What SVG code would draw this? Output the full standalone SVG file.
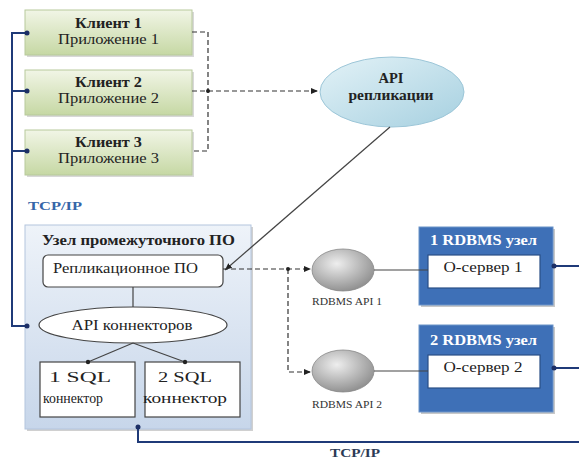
<svg xmlns="http://www.w3.org/2000/svg" width="579" height="461" viewBox="0 0 579 461" font-family="'Liberation Serif', 'DejaVu Serif', serif">
<defs>
<linearGradient id="gGreen" x1="0" y1="0" x2="0" y2="1"><stop offset="0" stop-color="#f1f5e6"/><stop offset="1" stop-color="#c6d8a4"/></linearGradient>
<linearGradient id="gBlue" x1="0" y1="0" x2="1" y2="1"><stop offset="0" stop-color="#e3f2f7"/><stop offset="1" stop-color="#a6d0e0"/></linearGradient>
<linearGradient id="gMid" x1="0" y1="0" x2="0" y2="1"><stop offset="0" stop-color="#eef3f9"/><stop offset="1" stop-color="#c7d6ea"/></linearGradient>
<radialGradient id="gGray" cx="0.4" cy="0.35" r="0.7"><stop offset="0" stop-color="#eeeeee"/><stop offset="1" stop-color="#8c8c8c"/></radialGradient>
<marker id="arr" markerWidth="8" markerHeight="8" refX="7" refY="4" orient="auto" markerUnits="userSpaceOnUse"><path d="M0,1 L7,4 L0,7 z" fill="#222"/></marker>
</defs>
<style>
text{font-family:'Liberation Serif','DejaVu Serif',serif;}
.b{font-weight:bold;}
.t{font-size:14px;fill:#222;}
.client rect.box{fill:url(#gGreen);stroke:#b7c99c;stroke-width:1;}
.shadow{fill:#d8d8d8;stroke:none;}
.bus{fill:none;stroke:#1f3a78;stroke-width:2;}
.dash{fill:none;stroke:#333;stroke-width:1.2;stroke-dasharray:5,3;}
.solid{fill:none;stroke:#444;stroke-width:1.2;}
.wbox{fill:#fff;stroke:#444;stroke-width:1.2;}
.rdb{fill:#3e70b7;stroke:#6b93c8;stroke-width:1;}
.jdot{fill:#1c2f66;}
.wt{fill:#fff;}
</style>

<g id="client1" class="client">
  <rect x="27" y="12" width="167" height="45" class="shadow"/>
  <rect x="25" y="10" width="167" height="45" class="box"/>
  <text class="b t" x="108.5" y="28" text-anchor="middle" textLength="67" lengthAdjust="spacingAndGlyphs">Клиент 1</text>
  <text class="t" x="108.5" y="44" text-anchor="middle" textLength="101" lengthAdjust="spacingAndGlyphs">Приложение 1</text>
</g>
<g id="client2" class="client">
  <rect x="27" y="72" width="167" height="45" class="shadow"/>
  <rect x="25" y="70" width="167" height="45" class="box"/>
  <text class="b t" x="108.5" y="87" text-anchor="middle" textLength="67" lengthAdjust="spacingAndGlyphs">Клиент 2</text>
  <text class="t" x="108.5" y="103" text-anchor="middle" textLength="101" lengthAdjust="spacingAndGlyphs">Приложение 2</text>
</g>
<g id="client3" class="client">
  <rect x="27" y="132" width="167" height="45" class="shadow"/>
  <rect x="25" y="130" width="167" height="45" class="box"/>
  <text class="b t" x="108.5" y="147" text-anchor="middle" textLength="67" lengthAdjust="spacingAndGlyphs">Клиент 3</text>
  <text class="t" x="108.5" y="163" text-anchor="middle" textLength="101" lengthAdjust="spacingAndGlyphs">Приложение 3</text>
</g>

<g id="api-replication">
  <ellipse cx="392" cy="92" rx="72" ry="35" fill="url(#gBlue)" stroke="#9cc6d8" stroke-width="1"/>
  <text class="b t" x="391" y="83" text-anchor="middle" textLength="25" lengthAdjust="spacingAndGlyphs">API</text>
  <text class="b t" x="391" y="100" text-anchor="middle" textLength="85" lengthAdjust="spacingAndGlyphs">репликации</text>
</g>

<text class="b" x="28" y="210" font-size="12" fill="#3565a8" textLength="54" lengthAdjust="spacingAndGlyphs">TCP/IP</text>

<g id="middleware">
  <rect x="27" y="227" width="226" height="204" fill="#d0d0d0"/>
  <rect x="25" y="225" width="226" height="204" fill="url(#gMid)" stroke="#b3c5de" stroke-width="1"/>
  <text class="b t" x="42" y="245" textLength="193" lengthAdjust="spacingAndGlyphs">Узел промежуточного ПО</text>
</g>
<g id="replication-sw">
  <rect x="43" y="255" width="180" height="32" rx="5" class="wbox"/>
  <text class="t" x="53" y="273" textLength="145" lengthAdjust="spacingAndGlyphs">Репликационное ПО</text>
</g>
<g id="api-connectors">
  <ellipse cx="133" cy="325" rx="94" ry="18" fill="#fff" stroke="#444" stroke-width="1.2"/>
  <text class="t" x="132" y="330" text-anchor="middle" textLength="121" lengthAdjust="spacingAndGlyphs">API коннекторов</text>
</g>
<g id="sql1">
  <rect x="40" y="362" width="95" height="55" class="wbox"/>
  <text class="t" x="80" y="382" text-anchor="middle" textLength="62" lengthAdjust="spacingAndGlyphs">1 SQL</text>
  <text class="t" x="73" y="403" text-anchor="middle" textLength="60" lengthAdjust="spacingAndGlyphs">коннектор</text>
</g>
<g id="sql2">
  <rect x="145" y="362" width="95" height="55" class="wbox"/>
  <text class="t" x="185" y="382" text-anchor="middle" textLength="54" lengthAdjust="spacingAndGlyphs">2 SQL</text>
  <text class="t" x="185" y="403" text-anchor="middle" textLength="84" lengthAdjust="spacingAndGlyphs">коннектор</text>
</g>

<g id="rdbms-api1">
  <ellipse cx="343" cy="270" rx="31" ry="21" fill="url(#gGray)" stroke="#888" stroke-width="0.8"/>
  <text x="347" y="305" text-anchor="middle" font-size="10" fill="#333" textLength="70" lengthAdjust="spacingAndGlyphs">RDBMS API 1</text>
</g>
<g id="rdbms-api2">
  <ellipse cx="343" cy="371" rx="31" ry="21" fill="url(#gGray)" stroke="#888" stroke-width="0.8"/>
  <text x="347" y="408" text-anchor="middle" font-size="10" fill="#333" textLength="70" lengthAdjust="spacingAndGlyphs">RDBMS API 2</text>
</g>

<g id="rdbms1">
  <rect x="421" y="229" width="134" height="78" fill="#c8c8c8"/>
  <rect x="419" y="227" width="134" height="78" class="rdb"/>
  <text class="b t wt" x="430" y="245" style="fill:#fff" textLength="107" lengthAdjust="spacingAndGlyphs">1 RDBMS узел</text>
  <rect x="428" y="255" width="112" height="33" class="wbox" style="stroke:#2a4f86"/>
  <text class="t" x="483" y="272" text-anchor="middle" textLength="79" lengthAdjust="spacingAndGlyphs">О-сервер 1</text>
</g>
<g id="rdbms2">
  <rect x="421" y="327" width="134" height="87" fill="#c8c8c8"/>
  <rect x="419" y="325" width="134" height="87" class="rdb"/>
  <text class="b t wt" x="430" y="345" style="fill:#fff" textLength="107" lengthAdjust="spacingAndGlyphs">2 RDBMS узел</text>
  <rect x="428" y="355" width="112" height="33" class="wbox" style="stroke:#2a4f86"/>
  <text class="t" x="483" y="372" text-anchor="middle" textLength="79" lengthAdjust="spacingAndGlyphs">О-сервер 2</text>
</g>

<text class="b" x="330" y="457" font-size="12" fill="#2b3a55" textLength="50" lengthAdjust="spacingAndGlyphs">TCP/IP</text>

<g id="connectors">
  <path class="bus" d="M27,33 H12 V326 H27"/>
  <path class="bus" d="M12,91 H27"/>
  <path class="bus" d="M12,151 H27"/>
  <circle class="jdot" cx="27" cy="33" r="2.5"/>
  <circle class="jdot" cx="27" cy="91" r="2.5"/>
  <circle class="jdot" cx="27" cy="151" r="2.5"/>
  <circle class="jdot" cx="27" cy="326" r="2.5"/>
  <path class="bus" d="M138,427 V442 H579"/>
  <circle class="jdot" cx="138" cy="427" r="2.5"/>
  <path class="bus" d="M554,266 H579"/>
  <path class="bus" d="M554,368 H579"/>
  <circle class="jdot" cx="554" cy="266" r="2.5"/>
  <circle class="jdot" cx="554" cy="368" r="2.5"/>
  <path class="dash" d="M192,32 H208 V151 H192"/>
  <path class="dash" d="M192,91 H318" marker-end="url(#arr)"/>
  <circle cx="208" cy="91" r="2" fill="#222"/>
  <path class="solid" d="M390,127 L225,270" marker-end="url(#arr)"/>
  <path class="dash" d="M223,269 H311" marker-end="url(#arr)"/>
  <path class="dash" d="M288,269 V372 H311" marker-end="url(#arr)"/>
  <circle cx="288" cy="269" r="2" fill="#222"/>
  <path class="solid" d="M374,270 H428"/>
  <path class="solid" d="M374,371 H428"/>
  <path class="solid" d="M133,287 V307"/>
  <path class="solid" d="M133,343 L88,362"/>
  <path class="solid" d="M133,343 L185,362"/>
  <circle cx="88" cy="362" r="2.2" fill="#222"/>
  <circle cx="185" cy="362" r="2.2" fill="#222"/>
</g>
</svg>
